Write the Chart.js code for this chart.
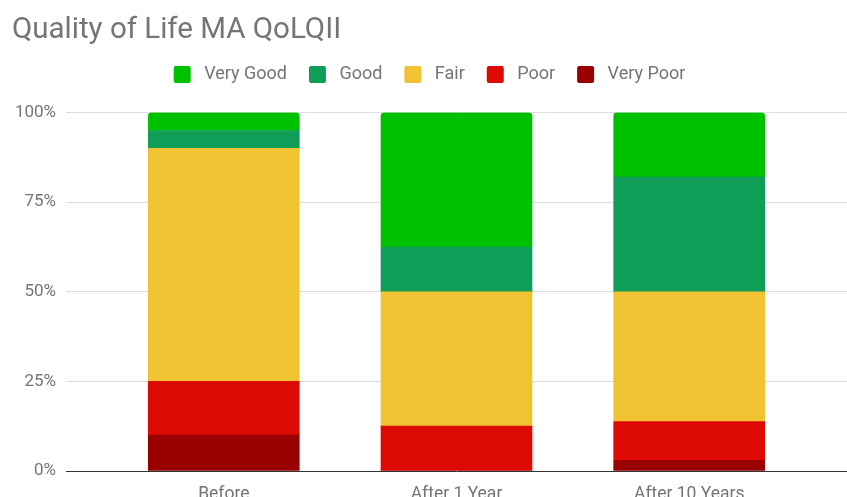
<!DOCTYPE html>
<html>
<head>
<meta charset="utf-8">
<script src="https://cdn.jsdelivr.net/npm/chart.js@4"></script>
<style>
  body { margin: 0; background: #fff; }
  #wrap { width: 847px; height: 497px; position: relative; }
</style>
</head>
<body>
<div id="wrap"><canvas id="chart"></canvas></div>
<script>
const categories = ['Before', 'After 1 Year', 'After 10 Years']

// bottom of the stack first
const veryPoor = [10, 0, 2.9]
const poor = [15, 12.5, 10.9]
const fair = [65, 37.5, 36.2]
const good = [5, 12.5, 32]
const veryGood = [5, 37.5, 18]

const yTicks = [0, 25, 50, 75, 100]

const toPoints = (values) => values.map((v, i) => ({ x: i, y: v }))

const series = [
  { label: 'Very Poor', values: veryPoor, color: '#990000' },
  { label: 'Poor', values: poor, color: '#dd0a04' },
  { label: 'Fair', values: fair, color: '#f1c232' },
  { label: 'Good', values: good, color: '#0f9d58' },
  { label: 'Very Good', values: veryGood, color: '#00c100' }
]

const datasets = series.map(s => ({
  label: s.label,
  data: toPoints(s.values),
  backgroundColor: s.color,
  borderWidth: 0,
  borderRadius: 4,
  barThickness: 151
}))

const gray = '#757575'

new Chart(document.getElementById('chart'), {
  type: 'bar',
  data: { datasets: datasets },
  options: {
    responsive: true,
    maintainAspectRatio: false,
    animation: false,
    layout: { padding: { left: 12, right: 0, top: 0, bottom: 0 } },
    plugins: {
      title: {
        display: true,
        text: 'Quality of Life MA QoLQII',
        align: 'start',
        color: gray,
        font: { family: 'Roboto', size: 29.5, weight: 'normal', lineHeight: 0.9 },
        padding: { top: 17, bottom: 0 }
      },
      // spacer between legend and plot
      subtitle: {
        display: true,
        text: '',
        weight: 500,
        font: { size: 10, lineHeight: 1 },
        padding: { top: 4, bottom: 5 }
      },
      legend: {
        reverse: true,
        labels: {
          color: gray,
          font: { family: 'Roboto', size: 18 },
          boxWidth: 17,
          boxHeight: 17,
          useBorderRadius: true,
          borderRadius: 2,
          padding: 22,
          generateLabels: (chart) => {
            const items = Chart.defaults.plugins.legend.labels.generateLabels(chart)
            items.forEach(it => { it.text = ' ' + it.text })
            return items
          }
        }
      },
      tooltip: { enabled: false }
    },
    scales: {
      x: {
        type: 'linear',
        stacked: true,
        min: -0.678,
        max: 2.678,
        offset: false,
        grid: { display: false, drawTicks: false },
        border: { display: false },
        afterBuildTicks: (scale) => {
          scale.ticks = categories.map((c, i) => ({ value: i }))
        },
        afterFit: (scale) => { scale.height = 26 },
        ticks: {
          autoSkip: false,
          maxRotation: 0,
          padding: 13,
          color: gray,
          font: { family: 'Roboto', size: 17.5 },
          callback: (v) => categories[v]
        }
      },
      y: {
        stacked: true,
        min: 0,
        max: 100,
        afterBuildTicks: (scale) => {
          scale.ticks = yTicks.map(v => ({ value: v }))
        },
        afterFit: (scale) => { scale.width = 54 },
        grid: {
          drawTicks: false,
          color: (ctx) => ctx.tick && ctx.tick.value === 0 ? '#333333' : '#dddddd'
        },
        border: { display: false },
        ticks: {
          padding: 10,
          color: gray,
          font: { family: 'Roboto', size: 17 },
          callback: (v) => v + '%'
        }
      }
    }
  }
})
</script>
</body>
</html>
